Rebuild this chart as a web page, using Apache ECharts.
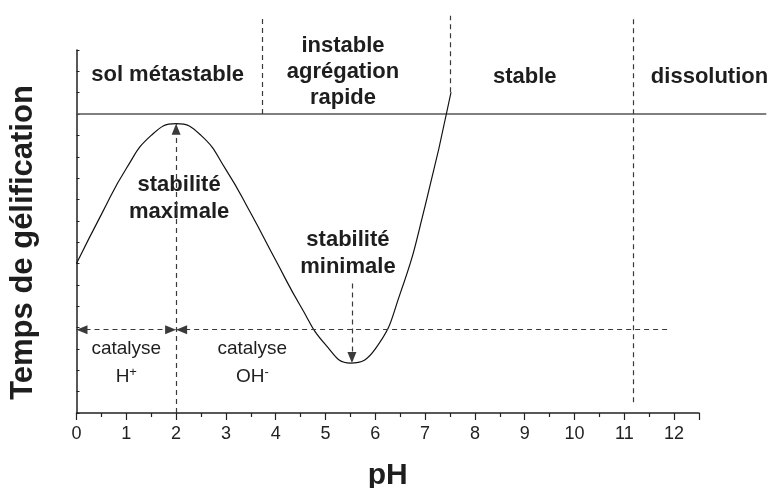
<!DOCTYPE html>
<html>
<head>
<meta charset="utf-8">
<script src="https://cdn.jsdelivr.net/npm/echarts@6/dist/echarts.min.js"></script>
<style>
  html, body { margin: 0; padding: 0; background: #fff; }
  #chart { width: 774px; height: 488px; }
</style>
</head>
<body>
<div id="chart"></div>
<script>
// courbe temps de gélification / pH
const phX = [0, 0.5, 1, 1.5, 2, 2.5, 3, 3.5, 4, 4.5, 5, 5.5, 6, 6.5, 7, 7.52];
const gelY = [7.0, 9.3, 11.45, 13.0, 13.55, 13.0, 11.4, 9.35, 7.15, 5.0, 3.2, 2.34, 3.0, 5.6, 9.7, 15.02];

const xTicks = [0, 1, 2, 3, 4, 5, 6, 7, 8, 9, 10, 11, 12];

// ligne continue (limite haute) et pointillés
const topLineY = 14;
const catalyseY = 3.9;
const pH_max = 2;       // stabilité maximale
const pH_min = 5.53;    // stabilité minimale
const frontieres = [3.72, 7.51, 11.17];

// textes : [x, y, texte]
const zones = [
  [1.83, 15.83, 'sol métastable'],
  [5.35, 15.97, 'instable\nagrégation\nrapide'],
  [9.0, 15.73, 'stable'],
  [12.71, 15.73, 'dissolution']
];
const stabilites = [
  [2.06, 10.05, 'stabilité\nmaximale'],
  [5.45, 7.47, 'stabilité\nminimale']
];
const catalyses = [
  [1.0, 2.33, 'catalyse\nH{sup|+}'],
  [3.53, 2.33, 'catalyse\nOH{sup|-}']
];

const FONT = 'Liberation Sans, Arial, Helvetica, sans-serif';
const INK = '#1e1e1e';

const chart = echarts.init(document.getElementById('chart'), null, { renderer: 'canvas' });

const dash = { type: [5, 4], color: '#3a3a3a', width: 1.2 };
const tri = 'triangle';

function seg(x1, y1, x2, y2, s1, s2) {
  return [
    { coord: [x1, y1], symbol: s1 || 'none' },
    { coord: [x2, y2], symbol: s2 || 'none' }
  ];
}

const mlData = [
  // pointillés verticaux (frontières)
  seg(frontieres[0], topLineY, frontieres[0], 18.6),
  seg(frontieres[1], gelY[gelY.length - 1], frontieres[1], 18.6),
  seg(frontieres[2], 0.5, frontieres[2], 18.6),
  // flèches stabilité
  seg(pH_max, 0, pH_max, gelY[4], 'none', tri),
  seg(pH_min, 6.07, pH_min, gelY[11], 'none', tri),
  // catalyse
  seg(0, catalyseY, pH_max, catalyseY, tri, tri),
  seg(pH_max, catalyseY, 11.86, catalyseY, tri, 'none')
];

function textSeries(items, fontSize, weight, lineHeight) {
  return {
    type: 'scatter',
    xAxisIndex: 1,
    yAxisIndex: 1,
    silent: true,
    symbolSize: 1,
    itemStyle: { color: 'rgba(0,0,0,0)', opacity: 1 },
    data: items.map(d => ({ value: [d[0], d[1]], name: d[2] })),
    label: {
      show: true,
      position: 'inside',
      formatter: '{b}',
      color: INK,
      opacity: 1,
      fontFamily: FONT,
      fontSize: fontSize,
      fontWeight: weight,
      lineHeight: lineHeight,
      align: 'center',
      rich: {
        sup: { fontSize: 13, fontFamily: FONT, color: INK, padding: [0, 0, 10, 0] }
      }
    }
  };
}

const option = {
  animation: false,
  backgroundColor: '#fff',
  grid: [
    { left: 76.5, right: 75, top: 50, bottom: 75, outerBoundsMode: 'none', containLabel: false },
    { left: 76.5, right: 7.7, top: 15.8, bottom: 75, outerBoundsMode: 'none', containLabel: false }
  ],
  xAxis: [
    {
      type: 'value', gridIndex: 0, min: 0, max: 12.5, interval: 1,
      name: 'pH', nameLocation: 'middle', nameGap: 48,
      nameTextStyle: { fontFamily: FONT, fontSize: 30, fontWeight: 'bold', color: INK },
      axisLine: { lineStyle: { color: '#222', width: 1.5 } },
      axisTick: { length: 7, lineStyle: { color: '#222', width: 1.2 } },
      minorTick: { show: true, splitNumber: 2, length: 4, lineStyle: { color: '#222', width: 1.2 } },
      splitLine: { show: false },
      axisLabel: {
        margin: 12, fontFamily: FONT, fontSize: 18, color: '#222',
        formatter: v => (xTicks.indexOf(v) >= 0 ? String(v) : '')
      }
    },
    { type: 'value', gridIndex: 1, min: 0, max: 13.85, show: false }
  ],
  yAxis: [
    {
      type: 'value', gridIndex: 0, min: 0, max: 17, interval: 1,
      name: 'Temps de gélification', nameLocation: 'middle', nameRotate: 90, nameGap: 38,
      nameTextStyle: {
        fontFamily: FONT, fontSize: 31, fontWeight: 'bold', color: INK,
        padding: [0, 22, 0, 0]
      },
      axisLine: { show: true, lineStyle: { color: '#222', width: 1.5 } },
      axisTick: { show: true, inside: true, length: 3, lineStyle: { color: '#222' } },
      axisLabel: { show: false },
      splitLine: { show: false }
    },
    { type: 'value', gridIndex: 1, min: 0, max: 18.6, show: false }
  ],
  series: [
    { type: 'line', xAxisIndex: 0, yAxisIndex: 0, data: [], silent: true },
    {
      type: 'line',
      xAxisIndex: 1, yAxisIndex: 1,
      data: [[0, topLineY], [13.85, topLineY]],
      symbol: 'none', silent: true,
      lineStyle: { color: '#555', width: 1.4 }
    },
    {
      type: 'line',
      xAxisIndex: 1, yAxisIndex: 1,
      data: phX.map((x, i) => [x, gelY[i]]),
      smooth: 0.5,
      symbol: 'none', silent: true,
      clip: false,
      lineStyle: { color: '#111', width: 1.2 },
      markLine: {
        silent: true,
        animation: false,
        symbolSize: [9, 11],
        symbolOffset: [[0, 5.5], [0, 5.5]],
        label: { show: false },
        emphasis: { disabled: true },
        lineStyle: dash,
        itemStyle: { color: '#222' },
        data: mlData
      }
    },
    textSeries(zones, 22, 'bold', 26),
    textSeries(stabilites, 22, 'bold', 27),
    textSeries(catalyses, 19, 'normal', 28)
  ]
};

chart.setOption(option);
</script>
</body>
</html>
